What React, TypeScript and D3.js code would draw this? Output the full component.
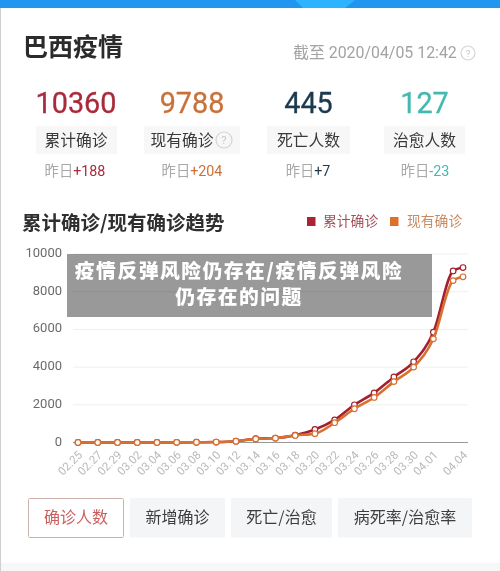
import React, { useEffect, useRef } from "react";
import * as d3 from "d3";

const dates = ["02.25","02.27","02.29","03.02","03.04","03.06","03.08","03.10","03.12","03.14","03.16","03.18","03.20","03.22","03.24","03.26","03.28","03.30","04.01","04.03","04.04"];
const dayIndex = [0,2,4,6,8,10,12,14,16,18,20,22,24,26,28,30,32,34,36,38,39];
const hiddenTickLabels = ["04.03"];
const cumulative = [1,2,2,2,3,8,13,25,70,200,235,390,690,1200,2000,2630,3480,4280,5850,9100,9280];
const existing = [1,2,2,2,3,8,13,25,70,190,230,375,470,1050,1790,2390,3230,4000,5500,8590,8790];
const yTicks = [0,2000,4000,6000,8000,10000];
const stats = [
  { value: "10360", label: "累计确诊", prefix: "昨日", delta: "+188", color: "#a92a3a", x: 76, dx: 75 },
  { value: "9788", label: "现有确诊", prefix: "昨日", delta: "+204", color: "#c9713a", x: 192, dx: 192 },
  { value: "445", label: "死亡人数", prefix: "昨日", delta: "+7", color: "#1c3a4e", x: 308.5, dx: 308 },
  { value: "127", label: "治愈人数", prefix: "昨日", delta: "-23", color: "#43b8b0", x: 424.5, dx: 425 },
];
const chips = [[36,81],[144,96],[267,83],[384,81]];
const tabs = ["确诊人数","新增确诊","死亡/治愈","病死率/治愈率"];
const tabBoxes = [[28,96],[130,95],[231,101],[338,134]];
const overlayLines = ["疫情反弹风险仍存在/疫情反弹风险","仍存在的问题"];

const SANS = "Roboto, 'Noto Sans CJK SC', sans-serif";
const CJK = "'Noto Sans CJK SC', Roboto, sans-serif";
const RED = "#a3202f";
const ORANGE = "#d9702f";

function Help({ cx, cy, r }: { cx: number; cy: number; r: number }) {
  return (
    <g>
      <circle cx={cx} cy={cy} r={r} fill="none" stroke="#d4d4d4" strokeWidth={1.2} />
      <text x={cx} y={cy + r * 0.5} textAnchor="middle" fontSize={r * 1.4} fill="#c8c8c8" fontFamily={SANS}>?</text>
    </g>
  );
}

export default function App() {
  const ref = useRef<SVGGElement>(null);
  useEffect(() => {
    const g = d3.select(ref.current);
    g.selectAll("*").remove();
    const x = d3.scaleLinear().domain([0, 39]).range([78, 463]);
    const y = d3.scaleLinear().domain([0, 10000]).range([442.5, 254]);

    const grid = g.append("g");
    grid.selectAll("line").data(yTicks).join("line")
      .attr("x1", 73).attr("x2", 468)
      .attr("y1", (d) => y(d)).attr("y2", (d) => y(d))
      .attr("stroke", (d) => (d === 0 ? "#999999" : "#efefef")).attr("stroke-width", 1);
    grid.selectAll("text").data(yTicks).join("text")
      .attr("x", 62).attr("y", (d) => y(d) + 3).attr("text-anchor", "end")
      .attr("font-size", 13).attr("fill", "#6b6b6b").attr("font-family", SANS)
      .text((d) => d);

    const labels = g.append("g");
    dates.forEach((d, i) => {
      if (hiddenTickLabels.includes(d)) return;
      labels.append("text")
        .attr("transform", `translate(${x(dayIndex[i]) + 3},${453.5}) rotate(-45)`)
        .attr("text-anchor", "end").attr("dominant-baseline", "middle")
        .attr("font-size", 11.5).attr("fill", "#b9b9b9").attr("font-family", SANS)
        .text(d);
    });

    const line = d3.line<number>().x((_, i) => x(dayIndex[i])).y((d) => y(d)).curve(d3.curveMonotoneX);
    [[cumulative, RED], [existing, ORANGE]].forEach(([vals, col]) => {
      const v = vals as number[];
      g.append("path").attr("d", line(v)).attr("fill", "none").attr("stroke", col as string).attr("stroke-width", 2.6);
      g.append("g").selectAll("circle").data(v).join("circle")
        .attr("cx", (_, i) => x(dayIndex[i])).attr("cy", (d) => y(d)).attr("r", 2.8)
        .attr("fill", "#fff").attr("stroke", col as string).attr("stroke-width", 1.2);
    });
  }, []);

  return (
    <svg width={500} height={571} viewBox="0 0 500 571" style={{ position: "absolute", left: 0, top: 0, display: "block", background: "#fff", filter: "blur(0.35px)" }}>
      <rect x={0} y={0} width={500} height={8} fill="#2196f0" />
      <path d="M295 0 L303 8 L345 8 L355 0 Z" fill="#2db4ff" />
      <rect x={0} y={8} width={1} height={563} fill="#cfcfcf" />
      <rect x={1} y={563} width={499} height={8} fill="#f7f7f7" />

      <text x={23} y={56} fontSize={25} fontWeight={700} fill="#2b2b2b" fontFamily={CJK}>巴西疫情</text>
      <text x={293} y={58} fontSize={15.9} fill="#a3a3a3" fontFamily={SANS}>截至 2020/04/05 12:42</text>
      <Help cx={468} cy={53} r={7} />

      {stats.map((s, i) => (
        <g key={s.label}>
          <text x={s.x} y={112.5} textAnchor="middle" fontSize={28.8} fontWeight={400} stroke={s.color} strokeWidth={0.3} fill={s.color} fontFamily={SANS}>{s.value}</text>
          <rect x={chips[i][0]} y={126} width={chips[i][1]} height={28} fill="#f7f7f7" rx={1} />
          <text x={i === 1 ? 182 : s.x} y={146} textAnchor="middle" fontSize={15.8} fill="#3a3a3a" fontFamily={CJK}>{s.label}</text>
          <text x={s.dx} y={176} textAnchor="middle" fontSize={14.3} fontFamily={SANS}>
            <tspan fill="#a8a8a8">{s.prefix}</tspan>
            <tspan fill={s.color}>{s.delta}</tspan>
          </text>
        </g>
      ))}
      <Help cx={224} cy={140} r={8} />

      <text x={22} y={230} fontSize={19.5} fontWeight={700} fill="#2f2f2f" fontFamily={CJK}>累计确诊/现有确诊趋势</text>
      <rect x={307} y={217} width={8.5} height={9} fill="#ab2433" />
      <text x={323} y={226} fontSize={13.8} fill="#a4505c" fontFamily={CJK}>累计确诊</text>
      <rect x={390} y={217} width={8.5} height={9} fill="#df7028" />
      <text x={407} y={226} fontSize={13.8} fill="#c98a60" fontFamily={CJK}>现有确诊</text>

      <g ref={ref} />

      <rect x={67} y={254} width={365} height={63} fill="rgba(0,0,0,0.4)" />
      {overlayLines.map((t, i) => (
        <text key={t} x={239} y={277.5 + i * 26.5} textAnchor="middle" fontSize={19.8} fontWeight={900} letterSpacing={1.5} fill="#fff" fontFamily={CJK}>{t}</text>
      ))}

      {tabs.map((t, i) => (
        <g key={t}>
          <rect
            x={tabBoxes[i][0] + (i === 0 ? 0.5 : 0)} y={i === 0 ? 498.5 : 498}
            width={tabBoxes[i][1] - (i === 0 ? 1 : 0)} height={i === 0 ? 39 : 39.5}
            fill={i === 0 ? "#fff" : "#f3f5f7"} stroke={i === 0 ? "#cbb0ab" : "none"} rx={1}
          />
          <text x={tabBoxes[i][0] + tabBoxes[i][1] / 2} y={523} textAnchor="middle" fontSize={16} fill={i === 0 ? "#c9605f" : "#3d3d3d"} fontFamily={CJK}>{t}</text>
        </g>
      ))}
    </svg>
  );
}
